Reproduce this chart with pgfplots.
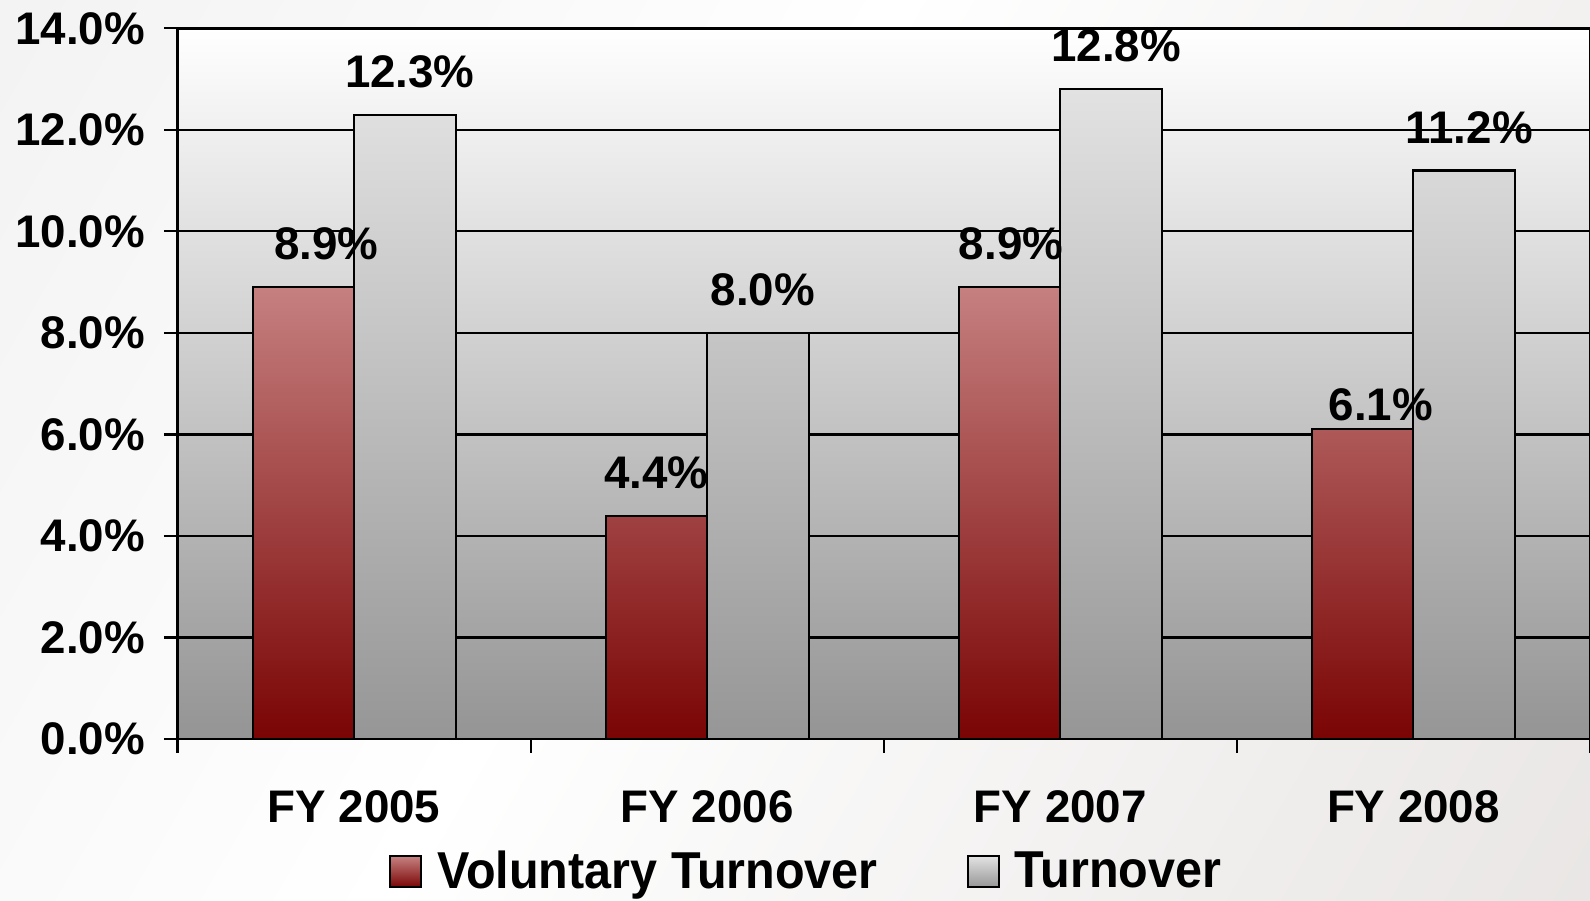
\documentclass[border=0pt]{standalone}
\usepackage{pgfplots}
\pgfplotsset{compat=1.18}
\usepackage{fontspec}
\setmainfont{Liberation Sans}
\usepackage{graphicx}

\definecolor{volTop}{RGB}{198,128,128}
\definecolor{volBot}{RGB}{122,4,4}
\definecolor{turTop}{RGB}{226,226,226}
\definecolor{turBot}{RGB}{150,150,150}
\definecolor{bgTop}{RGB}{255,255,255}
\definecolor{bgBot}{RGB}{148,148,148}
\definecolor{pgA}{RGB}{236,236,236}
\definecolor{pgB}{RGB}{224,220,218}
\pgfdeclarehorizontalshading{bgsh}{100bp}{color(0bp)=(pgA); color(45bp)=(white); color(100bp)=(pgB)}

\pgfplotstableread{
x y dx dy
0 8.9 2.3 2.6
1 4.4 0.0 2.6
2 8.9 0.15 2.6
3 6.1 1.8 0.7
}\voldata
\pgfplotstableread{
x y dx dy
0 12.3 0.5 2.6
1 8.0 0.5 2.6
2 12.8 0.5 2.6
3 11.2 0.5 2.6
}\turdata

\begin{document}
\begin{tikzpicture}[x=1cm,y=1cm]
\shade[shading=bgsh, shading angle=-30] (0,0) rectangle (15.9,9);
\begin{axis}[
  at={(1.775cm,1.61cm)}, anchor=south west,
  scale only axis, width=14.125cm, height=7.106cm,
  ybar=0pt, bar width=10.15mm,
  xmin=-0.5, xmax=3.5, ymin=0, ymax=14,
  xtick={-0.5,0.5,1.5,2.5,3.5}, xticklabels={},
  extra x ticks={0,1,2,3},
  extra x tick labels={FY 2005, FY 2006, FY 2007, FY 2008},
  extra x tick style={major tick length=0pt, grid=none,
    xticklabel style={inner sep=0pt, anchor=north, yshift=-5.1mm}},
  ytick={0,2,4,6,8,10,12,14},
  yticklabels={0.0\%,2.0\%,4.0\%,6.0\%,8.0\%,10.0\%,12.0\%,14.0\%},
  yticklabel style={inner sep=0pt, anchor=east, xshift=-1.85mm},
  tick align=outside, tick pos=left,
  major tick length=1.35mm,
  tick style={black, line width=0.6pt},
  ymajorgrids, grid style={black, line width=0.6pt},
  axis line style={black, line width=0.7pt},
  axis background/.style={top color=bgTop, bottom color=bgBot},
  ticklabel style={font=\fontsize{13}{15}\selectfont\bfseries},
  every node near coord/.append style={font=\fontsize{13}{15}\selectfont\bfseries, inner sep=0pt, anchor=south, text=black},
  legend style={at={(0.447,-0.187)}, anchor=center, draw=none, fill=none,
    font=\fontsize{13.8}{16}\selectfont\bfseries,
    legend columns=2,
    /tikz/every even column/.append style={column sep=8.2mm}},
  legend image code/.code={\draw[#1, line width=0.6pt] (0mm,-1.55mm) rectangle (3.1mm,1.55mm);},
]
\addplot[draw=black, line width=0.6pt, top color=volTop, bottom color=volBot,
  nodes near coords={\pgfmathprintnumber[fixed, fixed zerofill, precision=1, assume math mode=true]{\pgfplotspointmeta}\%},
  visualization depends on={\thisrow{dx} \as \dx},
  visualization depends on={\thisrow{dy} \as \dy},
  every node near coord/.append style={xshift=\dx mm, yshift=\dy mm}]
  table[x=x, y=y] {\voldata};
\addlegendentry{\hspace{0.8mm}\scalebox{1}[1.07]{Voluntary Turnover}}
\addplot[draw=black, line width=0.6pt, top color=turTop, bottom color=turBot,
  nodes near coords={\pgfmathprintnumber[fixed, fixed zerofill, precision=1, assume math mode=true]{\pgfplotspointmeta}\%},
  every node near coord/.append style={xshift=0.5mm, yshift=2.6mm}]
  table[x=x, y=y] {\turdata};
\addlegendentry{\hspace{0.8mm}\scalebox{1}[1.07]{Turnover}}
\end{axis}
\pgfresetboundingbox
\path (0,0) rectangle (15.9,9);
\end{tikzpicture}
\end{document}
